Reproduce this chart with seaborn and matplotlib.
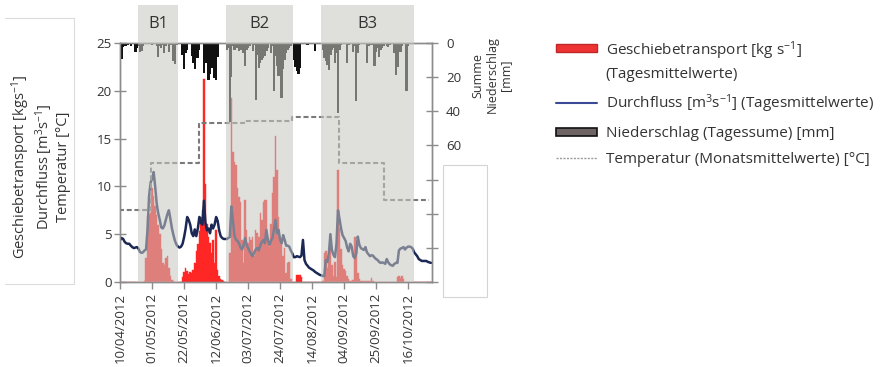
import numpy as np
import pandas as pd
import matplotlib
matplotlib.use('Agg')
import matplotlib.pyplot as plt
import matplotlib.transforms as mtransforms
from matplotlib.patches import Patch, Rectangle
from matplotlib.lines import Line2D
from matplotlib.legend_handler import HandlerPatch
import seaborn as sns

# ---------------- data ----------------
start_date = '2012-04-10'

discharge = [
    4.4, 4.6, 4.5, 4.2, 4.05, 4.0, 4.0, 3.8, 3.65, 3.55,
    3.6, 3.65, 3.5, 3.15, 3.05, 3.1, 3.3, 3.4, 5.5, 9.0,
    10.4, 10.8, 11.5, 10.0, 8.2, 7.2, 6.5, 5.7, 5.6, 5.9,
    6.5, 7.1, 7.5, 6.6, 5.6, 4.9, 4.3, 3.9, 3.7, 3.6,
    3.7, 4.0, 4.7, 5.6, 6.8, 6.5, 6.0, 5.1, 4.8, 5.5,
    4.8, 5.6, 6.8, 6.2, 6.0, 8.5, 6.2, 5.4, 5.6, 5.1,
    6.0, 5.6, 6.0, 6.8, 6.4, 5.4, 4.8, 4.6, 4.5, 4.5,
    4.5, 4.6, 4.7, 7.9, 6.5, 4.9, 4.4, 4.3, 4.05, 3.6,
    3.4, 3.8, 4.6, 3.9, 3.55, 3.2, 2.9, 2.7, 3.1, 3.4,
    3.55, 3.3, 3.8, 4.2, 4.4, 4.05, 5.45, 4.4, 3.9, 4.3,
    4.6, 5.5, 6.5, 5.1, 5.45, 4.4, 4.05, 4.9, 4.4, 3.8,
    3.8, 3.7, 3.3, 3.0, 2.6, 2.6, 2.7, 2.65, 2.6, 2.75,
    4.4, 2.3, 1.9, 1.7, 1.5, 1.4, 1.3, 1.2, 1.05, 0.95,
    0.85, 0.75, 0.7, 0.65, 0.6, 2.3, 2.1, 3.0, 5.0, 3.35,
    2.85, 2.6, 4.0, 7.5, 6.6, 5.6, 4.9, 4.6, 4.3, 3.6,
    3.2, 4.0, 3.7, 2.7, 2.5, 3.0, 4.75, 3.9, 3.55, 3.45,
    3.35, 3.65, 3.1, 2.9, 2.7, 2.8, 2.75, 2.55, 2.4, 2.3,
    2.1, 2.0, 2.05, 2.0, 1.9, 2.4, 2.05, 1.85, 1.75, 1.7,
    1.9, 2.0, 2.0, 3.3, 3.5, 3.55, 3.65, 3.4, 3.6, 3.7,
    3.7, 3.65, 3.5, 3.1, 2.9, 2.7, 2.4, 2.3, 2.2, 2.2,
    2.2, 2.2, 2.1, 2.05, 2.0,
]

sediment = [
    0.05, 0.05, 0.05, 0.05, 0.05, 0.05, 0.05, 0.05, 0.05, 0.05,
    0.05, 0.05, 0.05, 0.05, 0.05, 0.05, 0.1, 2.5, 6.9, 7.0,
    7.2, 9.8, 9.0, 8.0, 7.0, 6.0, 5.0, 3.5, 2.0, 1.8,
    2.5, 2.7, 1.5, 0.6, 0.2, 0.1, 0.05, 0.05, 0.05, 0.05,
    0.05, 0.5, 1.0, 1.5, 1.2, 0.8, 1.0, 0.9, 1.3, 2.0,
    3.2, 4.0, 5.3, 6.8, 7.5, 21.2, 10.2, 6.1, 4.75, 4.05,
    3.0, 4.4, 2.0, 5.45, 1.3, 0.6, 0.3, 0.2, 0.1, 0.05,
    0.05, 0.05, 3.0, 19.2, 13.6, 12.6, 12.2, 9.8, 8.9, 8.4,
    4.4, 2.0, 8.6, 5.45, 4.05, 4.75, 4.4, 4.75, 2.7, 5.45,
    5.1, 4.75, 7.2, 6.5, 8.4, 8.6, 8.6, 4.6, 3.7, 6.1,
    9.3, 11.0, 15.3, 11.7, 6.8, 4.4, 4.0, 2.7, 3.55, 0.95,
    2.0, 2.05, 0.3, 0.05, 0.05, 0.05, 0.7, 0.7, 0.7, 0.5,
    0.05, 0.05, 0.05, 0.05, 0.05, 0.05, 0.05, 0.05, 0.05, 0.05,
    0.05, 0.05, 0.05, 0.1, 3.0, 3.2, 1.5, 2.7, 5.0, 1.8,
    0.6, 2.1, 0.5, 11.7, 5.6, 3.5, 1.8, 1.4, 1.1, 0.6,
    0.3, 0.1, 0.1, 0.2, 4.75, 4.4, 0.9, 0.3, 0.1, 0.1,
    0.1, 0.1, 0.1, 0.1, 0.1, 0.4, 0.1, 0.05, 0.05, 0.05,
    0.05, 0.05, 0.05, 0.05, 0.05, 0.05, 0.05, 0.05, 0.05, 0.05,
    0.05, 0.05, 0.5, 0.6, 0.4, 0.6, 0.3, 0.05, 0.05, 0.05,
    0.05, 0.05, 0.05, 0.05, 0.05, 0.05, 0.05, 0.05, 0.05, 0.05,
    0.05, 0.05, 0.05, 0.05, 0.05,
]

precip = [
    3.0, 9.3, 2.6, 2.0, 1.5, 1.0, 0, 2.0, 0, 0,
    5.3, 2.9, 1.5, 5.3, 4.9, 2.0, 0, 0, 0, 0,
    0, 1.0, 0.6, 0, 2.0, 8.4, 1.5, 2.9, 1.0, 5.8,
    1.5, 0, 5.3, 1.0, 0, 10.3, 12.2, 1.0, 0, 0,
    0, 7.2, 15.5, 6.0, 4.0, 0, 0, 7.8, 11.7, 15.5,
    9.0, 9.0, 3.9, 0, 0, 17.5, 12.0, 8.0, 21.4, 18.0,
    14.6, 9.0, 20.4, 21.4, 8.0, 0, 0, 0, 0, 0,
    3.9, 2.9, 46.3, 19.8, 2.0, 3.9, 2.0, 2.9, 4.9, 3.9,
    2.0, 5.8, 13.6, 3.9, 2.9, 2.0, 0, 4.9, 1.0, 33.2,
    6.8, 14.6, 11.7, 9.7, 8.7, 7.8, 4.9, 2.9, 0, 5.8,
    2.0, 28.2, 7.8, 13.6, 19.4, 0, 32.0, 15.5, 9.7, 5.8,
    3.9, 2.9, 2.0, 0, 10.0, 14.0, 16.5, 18.0, 14.6, 0,
    0, 0, 0, 1.0, 0, 0, 0, 0, 4.9, 0,
    0, 0, 0.5, 4.0, 8.7, 10.7, 13.0, 16.0, 7.0, 3.9,
    2.9, 12.0, 6.0, 40.8, 4.0, 1.0, 0, 0, 0, 11.7,
    1.0, 0, 0, 5.0, 2.0, 34.0, 6.0, 1.0, 0, 0,
    0, 0, 11.7, 2.0, 0, 1.0, 0, 13.6, 5.0, 3.0,
    8.0, 4.0, 3.0, 1.5, 0.5, 2.0, 2.5, 1.0, 0.5, 0,
    6.0, 18.5, 14.0, 5.0, 5.0, 2.0, 0, 0.5, 28.2, 1.5,
    0, 0, 0, 0, 0, 0, 0, 0, 0, 0,
    0, 0, 0, 0, 0,
]

temp_month_starts = ['2012-04-10', '2012-05-01', '2012-06-01', '2012-07-01',
                     '2012-08-01', '2012-09-01', '2012-10-01', '2012-10-30']
temp_values = [7.5, 12.5, 16.6, 16.8, 17.25, 12.4, 8.6, 8.6]

phase_labels = ['B1', 'B2', 'B3']
phase_starts = ['2012-04-22 00:00', '2012-06-18 17:00', '2012-08-19 14:00']
phase_ends = ['2012-05-17 17:00', '2012-08-01 19:00', '2012-10-19 19:00']

legend_labels = ['Geschiebetransport [kg s$^{-1}$]\n(Tagesmittelwerte)',
                 'Durchfluss [m$^{3}$s$^{-1}$] (Tagesmittelwerte)',
                 'Niederschlag (Tagessume) [mm]',
                 'Temperatur (Monatsmittelwerte) [°C]']
left_label = 'Geschiebetransport [kgs$^{-1}$]\nDurchfluss [m$^{3}$s$^{-1}$]\nTemperatur [°C]'
right_label = 'Summe\nNiederschlag\n[mm]'

# ---------------- style ----------------
sns.set_style('white')
plt.rcParams['font.family'] = ['Open Sans', 'DejaVu Sans']
plt.rcParams['mathtext.default'] = 'regular'
spine_c = '#8c8c8c'
text_c = '#333333'

W, H = 885, 367
fig = plt.figure(figsize=(W / 100, H / 100), dpi=100)
L, R, T, B = 120, 432, 43, 282
ax = fig.add_axes([L / W, 1 - B / H, (R - L) / W, (B - T) / H])
ax2 = ax.twinx()

dates = pd.date_range(start_date, periods=len(discharge), freq='D')

# sediment bars
ax.bar(dates, sediment, width=1.0, color='#ff2626', edgecolor='#ff2626',
       linewidth=0.3, zorder=2)
# discharge line
sns.lineplot(x=dates, y=discharge, ax=ax, color='#1b2856', linewidth=1.8, zorder=3)
# temperature step line
tdates = pd.to_datetime(temp_month_starts) - pd.Timedelta(hours=12)
sns.lineplot(x=tdates, y=temp_values, ax=ax, color='#7a7a7a', linewidth=1.5,
             linestyle=(0, (2.4, 1.3)), drawstyle='steps-post', zorder=4)

# precipitation bars (inverted secondary axis)
ax2.bar(dates, precip, width=1.5, color='#111111', linewidth=0, zorder=2)
ax2.set_ylim(140, 0)
ax2.set_yticks(range(0, 160, 20))
ax2.set_yticklabels(['0', '20', '40', '60', '', '', '', ''])

# phase spans (semi transparent overlay)
trans = mtransforms.blended_transform_factory(ax2.transData, ax2.transAxes)
top_ext = (B - 5) / (B - T)
for lab, s, e in zip(phase_labels, phase_starts, phase_ends):
    s = pd.Timestamp(s); e = pd.Timestamp(e)
    ax2.axvspan(s, e, ymin=0, ymax=top_ext, color='#c6c6c0', alpha=0.56,
                linewidth=0, zorder=5, clip_on=False)
    ax2.text(s + (e - s) / 2, 1 + (19 / (B - T)), lab, transform=trans,
             ha='center', va='center', fontsize=12, color=text_c, zorder=6)

ax.set_ylim(0, 25)
ax.set_yticks(range(0, 30, 5))
x0 = dates[0] - pd.Timedelta(hours=2)
ax.set_xlim(x0, dates[0] + pd.Timedelta(days=204.7))
xt = pd.date_range(start_date, periods=10, freq='21D')
ax.set_xticks(xt)
ax.set_xticklabels([d.strftime('%d/%m/%Y') for d in xt], rotation=90)
ax.set_xlabel('')
ax.set_ylabel('')

for a in (ax, ax2):
    for sp in a.spines.values():
        sp.set_color(spine_c)
        sp.set_linewidth(1.0)
ax.tick_params(axis='y', direction='inout', length=8, width=1, color=spine_c,
               labelsize=9.5, labelcolor=text_c, pad=2, left=True)
ax.tick_params(axis='x', direction='out', length=5, width=1, color=spine_c,
               labelsize=9.5, labelcolor=text_c, pad=3, bottom=True)
ax2.tick_params(axis='y', direction='inout', length=8, width=1, color=spine_c,
                labelsize=9.5, labelcolor=text_c, pad=6, right=True)

# left label and its box
fig.text(40 / W, 1 - 167 / H, left_label, rotation=90, ha='center', va='center',
         multialignment='center', fontsize=10.5, color=text_c, linespacing=1.1)
box_c = '#dcdcdc'
fig.add_artist(Line2D([5 / W, 74 / W], [1 - 18 / H] * 2, transform=fig.transFigure, color=box_c, lw=0.8))
fig.add_artist(Line2D([74 / W, 74 / W], [1 - 18 / H, 1 - 284 / H], transform=fig.transFigure, color=box_c, lw=0.8))
fig.add_artist(Line2D([5 / W, 74 / W], [1 - 284 / H] * 2, transform=fig.transFigure, color=box_c, lw=0.8))

# right label and empty box
fig.text(492 / W, 1 - 75 / H, right_label, rotation=90, ha='center', va='center',
         multialignment='center', fontsize=9, color=text_c, linespacing=1.1)
fig.add_artist(Rectangle((443 / W, 1 - 297 / H), 44 / W, 132 / H, transform=fig.transFigure,
                         facecolor='white', edgecolor='#d4d4d4', lw=0.8))


# legend
class HandlerTopPatch(HandlerPatch):
    def __init__(self, dy, **kw):
        super().__init__(**kw)
        self.dy = dy

    def create_artists(self, legend, orig_handle, xdescent, ydescent, width,
                       height, fontsize, trans):
        arts = super().create_artists(legend, orig_handle, xdescent, ydescent,
                                      width, height, fontsize, trans)
        for a in arts:
            a.set_y(a.get_y() + self.dy)
        return arts


red_handle = Patch(facecolor='#ee3333', edgecolor='#c02828', lw=1.0)
handles = [red_handle,
           Line2D([], [], color='#3b4a96', lw=1.5),
           Patch(facecolor='#6e6464', edgecolor='#111111', lw=1.2),
           Line2D([], [], color='#9a9a9a', lw=1.0, linestyle=(0, (1.5, 1)))]
leg = fig.legend(handles, legend_labels, loc='upper left',
                 bbox_to_anchor=(550 / W, 1 - 33 / H), frameon=False, fontsize=11,
                 handlelength=2.65, handleheight=0.45, handletextpad=0.6, labelspacing=0.72,
                 borderaxespad=0, handler_map={red_handle: HandlerTopPatch(dy=9.0)})
for t in leg.get_texts():
    t.set_color(text_c)
leg.get_texts()[0].set_linespacing(1.45)

fig.savefig('out.png', dpi=100)
